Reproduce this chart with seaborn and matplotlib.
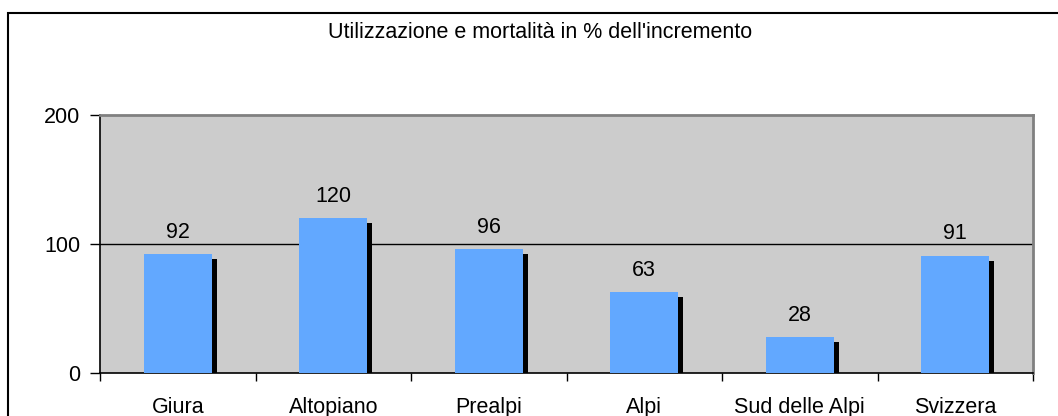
import matplotlib
matplotlib.use("Agg")
import matplotlib.pyplot as plt
import matplotlib.transforms as mtransforms
from matplotlib.patches import Rectangle
from matplotlib.ticker import FixedLocator
import seaborn as sns
import pandas as pd

# data
regioni = ["Giura", "Altopiano", "Prealpi", "Alpi", "Sud delle Alpi", "Svizzera"]
valori = [92, 120, 96, 63, 28, 91]
titolo = "Utilizzazione e mortalità in % dell'incremento"

df = pd.DataFrame({"regione": regioni, "valore": valori})

sns.set_theme(style="white", rc={"text.color": "black", "xtick.color": "black",
                                 "ytick.color": "black", "axes.labelcolor": "black"})
plt.rcParams["font.family"] = ["Liberation Sans", "DejaVu Sans"]
FS = 15.5

W, H = 1058, 416
fig = plt.figure(figsize=(W / 100, H / 100), dpi=100)
ax = fig.add_axes([100 / W, (H - 373) / H, (1033 - 100) / W, (373 - 115) / H])
ax.set_facecolor("#CCCCCC")

# shadow bars (black, shifted right/down)
sns.barplot(data=df, x="regione", y="valore", color="black", width=0.44,
            saturation=1, ax=ax, zorder=2)
shift = mtransforms.ScaledTranslation(0.05, -0.05, fig.dpi_scale_trans)
for p in ax.patches:
    p.set_transform(ax.transData + shift)
    p.set_linewidth(0)
n_shadow = len(ax.patches)

# main bars
sns.barplot(data=df, x="regione", y="valore", color="#62A8FF", width=0.44,
            saturation=1, ax=ax, zorder=3)
for p in ax.patches[n_shadow:]:
    p.set_linewidth(0)

for i, v in enumerate(valori):
    ax.annotate(str(v), (i, v), xytext=(0, 8), textcoords="offset points",
                ha="center", va="bottom", fontsize=FS, color="black", zorder=5)

ax.set_ylim(0, 200)
ax.set_xlim(-0.5, len(regioni) - 0.5)
ax.set_yticks([0, 100, 200])
ax.axhline(100, color="black", lw=1, zorder=1)
ax.set_xlabel("")
ax.set_ylabel("")

# ticks
ax.xaxis.set_minor_locator(FixedLocator([i - 0.5 for i in range(len(regioni) + 1)]))
ax.tick_params(axis="x", which="major", length=0, pad=17, labelsize=FS, labelcolor="black")
ax.tick_params(axis="x", which="minor", length=6, width=1, color="black", direction="out", bottom=True)
ax.tick_params(axis="y", length=7, width=1, color="black", pad=7, labelsize=FS, left=True,
               labelcolor="black")

for s in ["left", "bottom"]:
    ax.spines[s].set_color("black")
    ax.spines[s].set_linewidth(1.2)
for s in ["top", "right"]:
    ax.spines[s].set_color("#808080")
    ax.spines[s].set_linewidth(2)

fig.text(540 / W, 1 - 32 / H, titolo, ha="center", va="center", fontsize=FS, color="black")

# outer frame
fig.patches.append(Rectangle((8 / W, -0.2), 1.2, 1 - 13 / H + 0.2,
                             transform=fig.transFigure, fill=False,
                             edgecolor="black", linewidth=1.5))

fig.savefig("out.png", dpi=100)
